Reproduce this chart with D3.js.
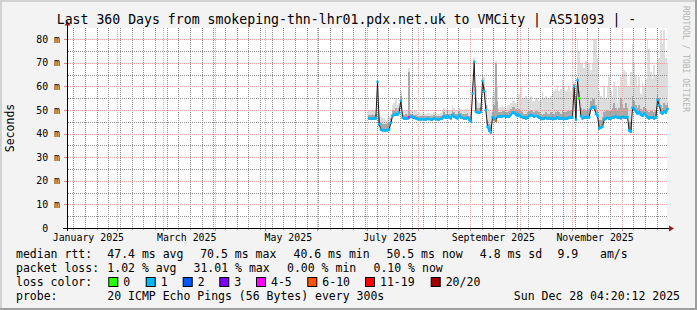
<!DOCTYPE html>
<html>
<head>
<meta charset="utf-8">
<script src="https://cdn.jsdelivr.net/npm/d3@7"></script>
<style>
  html, body { margin: 0; padding: 0; background: #f3f3f3; }
  svg { display: block; }
  text { font-family: "DejaVu Sans Mono", monospace; white-space: pre; }
</style>
</head>
<body>
<svg id="chart" width="697" height="310"></svg>
<script>
// ---------------- data ----------------
// one value per day, day 0 = 2025-07-01 (no data before the host was added)
const seriesStart = Date.UTC(2025, 6, 1);

const medianMs = [
  null, 46.5, 46.4, 46.3, 46.5, 46.6, 62.0, 44.0, 41.8, 41.5,          // 0-9
  41.5, 41.3, 41.5, 41.8, 44.5, 47.5, 48.0, 48.3, 48.0, 49.0,          // 10-19
  54.0, 46.8, 46.4, 46.5, 46.4, 47.0, 47.3, 47.0, 46.8, 46.5,          // 20-29
  46.2, 46.1, 46.1, 46.2, 46.1, 46.1, 46.3, 46.2, 46.1, 46.1,          // 30-39
  46.4, 46.2, 46.1, 46.1, 46.3, 46.6, 47.4, 46.8, 47.5, 47.0,          // 40-49
  46.6, 48.0, 47.2, 46.8, 46.5, 47.8, 47.0, 46.7, 46.6, 46.5,          // 50-59
  46.8, 46.0, 45.0, 57.0, 70.5, 49.3, 49.0, 48.8, 49.2, 62.3,          // 60-69
  58.0, 50.0, 43.0, 41.5, 40.6, 47.0, 46.5, 45.5, 47.2, 47.4,          // 70-79
  47.2, 47.4, 47.5, 47.3, 47.2, 47.4, 48.0, 49.0, 49.0, 48.2,          // 80-89
  47.5, 48.0, 47.2, 47.0, 46.8, 46.5, 46.8, 47.5, 47.9, 47.6,          // 90-99
  47.2, 47.6, 47.4, 46.8, 46.5, 46.2, 46.5, 46.8, 46.4, 46.6,          // 100-109
  46.4, 46.5, 46.2, 46.5, 47.0, 46.5, 46.4, 46.6, 46.2, 46.4,          // 110-119
  46.5, 46.8, 47.0, 46.8, 60.0, 46.0, 62.7, 55.0, 47.5, 46.5,          // 120-129
  47.0, 46.8, 47.2, 47.0, 50.5, 51.4, 51.0, 48.5, 47.5, 42.3,          // 130-139
  42.5, 43.0, 46.0, 46.5, 46.8, 46.4, 46.5, 46.8, 47.0, 47.3,          // 140-149
  46.8, 47.0, 46.6, 47.2, 47.0, 46.8, 47.0, 41.5, 40.8, 51.0,          // 150-159
  50.5, 49.5, 48.5, 49.2, 48.0, 47.5, 48.6, 47.8, 47.0, 46.6,          // 160-169
  46.8, 47.0, 46.5, 47.0, 54.3, 52.0, 49.0, 48.5, 49.5, 49.0,          // 170-179
  50.5                                                                  // 180
];

// top of the dense (darker) part of the smoke
const smokeMidMs = [
  null, 48, 48, 48.5, 48, 48.5, 60, 47, 44.5, 44,
  44, 44, 44.5, 45, 46.5, 50, 50, 51, 50, 51,
  56, 49, 48, 48.5, 48, 66, 48.5, 48.5, 48, 48,
  47.5, 47.6, 47.4, 47.5, 47.6, 47.5, 47.7, 47.5, 47.4, 47.5,
  47.8, 47.6, 47.5, 47.4, 47.6, 48, 49, 48.5, 49.5, 48.5,
  48.5, 50, 49, 48.5, 48.5, 49.5, 48.8, 48.5, 48.3, 48.5,
  48.8, 47.5, 47, 60, 70.5, 55, 51, 51, 51.5, 63,
  60, 52, 46, 44, 43.5, 49, 52, 70, 54, 49,
  49, 49.5, 49.5, 49, 49, 49.5, 50.5, 51.5, 51.5, 50.5,
  50, 50.5, 49.5, 49, 48.5, 48.5, 49, 49.5, 50, 49.5,
  49, 49.5, 49.5, 49, 48.5, 48, 48.5, 49, 48.5, 48.5,
  49, 48.5, 48.5, 49, 49.5, 49, 48.5, 50, 49, 49,
  49.5, 49.5, 50, 49.5, 61, 49, 64, 58, 51, 50,
  50.5, 50, 51, 50.5, 54, 55, 54.5, 52, 50, 46,
  46, 47, 49, 49.5, 50, 49.5, 50, 51, 53, 51,
  50, 51, 55, 52, 51, 53, 51, 45, 44.5, 56,
  54, 52, 51, 52, 50.5, 50, 51.5, 50.5, 49.5, 49,
  49.5, 50, 49, 50, 57, 55, 52, 51, 53, 52,
  53
];

// top of the light outer smoke (slowest pings)
const smokeHighMs = [
  null, 50, 50, 50.5, 50, 50.5, 63, 50, 47, 46.5,
  46.5, 46, 46.5, 47, 48.5, 52, 53, 55, 52, 53,
  58, 51, 50, 49.5, 50, 68, 50, 50, 49.5, 49.5,
  48.5, 48.8, 48.4, 48.6, 48.7, 48.5, 48.9, 48.6, 48.4, 48.5,
  49, 48.7, 48.5, 48.4, 48.8, 49.5, 51, 50, 51, 50,
  50, 52, 51, 50, 50, 51, 50.5, 50, 50, 50.5,
  51, 50, 49, 62, 72, 60, 54, 53, 53, 65,
  64, 58, 52, 50, 49, 56, 58, 71, 60, 51,
  51.5, 52, 51.5, 51, 52, 52, 53, 54, 54, 53,
  56, 57, 60, 55, 55, 56, 55, 55, 56, 54,
  54, 55, 55, 54, 55, 58, 55, 56, 55, 55,
  56, 57, 58, 59, 60, 58, 59, 62.7, 60, 58,
  59, 60, 58, 60, 62, 56, 80.4, 75, 70, 70,
  68, 71, 69, 70, 67, 70, 80, 80, 72, 58,
  56, 55, 60, 55, 60, 64, 58, 56, 62, 60,
  53, 60, 64, 62, 67, 66, 60, 60, 66, 78,
  70, 65, 60, 64, 57, 62, 60, 63, 80, 76,
  66, 63, 69, 65, 75, 72, 84, 78, 84, 72,
  70
];

// days whose median was drawn in a loss colour other than "1"
const lossDays = [25, 77, 127];
const lossDayBucket = ["4-5", "6-10", "0"];
const defaultBucket = "1";

const lossLabels = ["0", "1", "2", "3", "4-5", "6-10", "11-19", "20/20"];
const lossColors = ["#26ff00", "#00b8ff", "#0059ff", "#7e00ff", "#ff00ff", "#ff5500", "#ff0000", "#a10000"];

const yMajorTicks = [10, 20, 30, 40, 50, 60, 70, 80];
const yMinorTicks = [5, 15, 25, 35, 45, 55, 65, 75];
const yTickLabels = ["0  ", "10 m", "20 m", "30 m", "40 m", "50 m", "60 m", "70 m", "80 m"];
const monthLabelDates = ["2025-01-15", "2025-03-15", "2025-05-15", "2025-07-15", "2025-09-15", "2025-11-15"];
const monthLabels = ["January 2025", "March 2025", "May 2025", "July 2025", "September 2025", "November 2025"];

const titleText = "Last 360 Days from smokeping-thn-lhr01.pdx.net.uk to VMCity | AS51093 | -";
const rttLegend = ["median rtt:", "47.4 ms avg", "70.5 ms max", "40.6 ms min", "50.5 ms now", "4.8 ms sd", "9.9", "am/s"];
const lossLegend = ["packet loss:", "1.02 % avg", "31.01 % max", "0.00 % min", "0.10 % now"];
const probeText = "20 ICMP Echo Pings (56 Bytes) every 300s";
const stampText = "Sun Dec 28 04:20:12 2025";

// ---------------- layout ----------------
const W = 697, H = 310;
const plotLeft = 67, plotRight = 667, plotTop = 28, plotBottom = 228;
const endTime = new Date(Date.UTC(2025, 11, 28, 4, 20, 12));
const startTime = new Date(endTime.getTime() - 360 * 864e5);

const x = d3.scaleUtc().domain([startTime, endTime]).range([plotLeft, plotRight]);
const y = d3.scaleLinear().domain([0, 84.8]).range([plotBottom, plotTop]);
const dayStart = d => new Date(seriesStart + d * 864e5);
const dayMid = d => new Date(seriesStart + (d + 0.5) * 864e5);
const snap = v => Math.round(v);

const svg = d3.select("#chart");

// canvas + 3d frame
svg.append("rect").attr("width", W).attr("height", H).attr("fill", "#f3f3f3");
svg.append("path").attr("d", "M0,0H697V2H2V310H0Z").attr("fill", "#d2d2d2");
svg.append("path").attr("d", "M697,0V310H0V308H695V0Z").attr("fill", "#9e9e9e");

// plot area
svg.append("rect")
  .attr("x", plotLeft).attr("y", plotTop)
  .attr("width", plotRight - plotLeft).attr("height", plotBottom - plotTop)
  .attr("fill", "#ffffff");

// ---------------- smoke ----------------
const days = d3.range(medianMs.length).filter(d => medianMs[d] != null);

const smoke = svg.append("g").attr("shape-rendering", "crispEdges");
smoke.selectAll("rect.hi")
  .data(days)
  .enter().append("rect")
  .attr("class", "hi")
  .attr("x", d => x(dayStart(d)))
  .attr("width", d => x(dayStart(d + 1)) - x(dayStart(d)))
  .attr("y", d => y(smokeHighMs[d]))
  .attr("height", d => y(medianMs[d] - 0.6) - y(smokeHighMs[d]))
  .attr("fill", "#dddddd");

smoke.selectAll("rect.mid")
  .data(days)
  .enter().append("rect")
  .attr("class", "mid")
  .attr("x", d => x(dayStart(d)))
  .attr("width", d => x(dayStart(d + 1)) - x(dayStart(d)))
  .attr("y", d => y(smokeMidMs[d]))
  .attr("height", d => y(medianMs[d] - 0.6) - y(smokeMidMs[d]))
  .attr("fill", "#a9a9a9");

// ---------------- grid: 1px dots, every other pixel ----------------
const minorColor = "#8e8e8e";
const majorColor = "#f0a0a0";

function dotRows(g, positions, color, vertical) {
  g.selectAll("path")
    .data(positions)
    .enter().append("path")
    .attr("fill", color)
    .attr("d", p => {
      let s = "";
      if (vertical) {
        for (let yy = plotTop; yy < plotBottom; yy += 2) s += `M${p},${yy}h1v1h-1Z`;
      } else {
        for (let xx = plotLeft + 1; xx < plotRight; xx += 2) s += `M${xx},${p}h1v1h-1Z`;
      }
      return s;
    });
}
dotRows(svg.append("g").attr("shape-rendering", "crispEdges"),
  d3.utcMonday.range(startTime, endTime).map(d => snap(x(d))), minorColor, true);
dotRows(svg.append("g").attr("shape-rendering", "crispEdges"),
  yMinorTicks.map(v => snap(y(v))), minorColor, false);
dotRows(svg.append("g").attr("shape-rendering", "crispEdges"),
  d3.utcMonth.range(startTime, endTime).map(d => snap(x(d))), majorColor, true);
dotRows(svg.append("g").attr("shape-rendering", "crispEdges"),
  yMajorTicks.map(v => snap(y(v))), majorColor, false);

// ---------------- median ----------------
const medianLine = d3.line()
  .defined(d => medianMs[d] != null)
  .x(d => x(dayMid(d)))
  .y(d => y(medianMs[d]));

svg.append("path")
  .datum(d3.range(medianMs.length))
  .attr("d", medianLine)
  .attr("fill", "none")
  .attr("stroke", "#1a1a1a")
  .attr("stroke-width", 1);

function bucketColor(d) {
  const i = lossDays.indexOf(d);
  const label = i >= 0 ? lossDayBucket[i] : defaultBucket;
  return lossColors[lossLabels.indexOf(label)];
}

// coloured median: flat stretches get the loss colour, jumps stay dark
const lossG = svg.append("g");
days.forEach(d => {
  const next = d + 1;
  if (medianMs[next] != null && Math.abs(medianMs[next] - medianMs[d]) < 1.6) {
    lossG.append("line")
      .attr("x1", x(dayMid(d))).attr("x2", x(dayMid(next)))
      .attr("y1", y(medianMs[d])).attr("y2", y(medianMs[next]))
      .attr("stroke", bucketColor(d)).attr("stroke-width", 2.2);
  }
  lossG.append("rect")
    .attr("x", x(dayMid(d)) - 1.2).attr("y", y(medianMs[d]) - 1.2)
    .attr("width", 2.4).attr("height", 2.4)
    .attr("fill", bucketColor(d));
});

// small ticks outside the plot
const ticks = svg.append("g").attr("shape-rendering", "crispEdges");
ticks.selectAll("rect.ty")
  .data(yMajorTicks)
  .enter().append("rect")
  .attr("x", plotLeft - 3).attr("width", 3)
  .attr("y", d => snap(y(d))).attr("height", 1)
  .attr("fill", "#e08080");
ticks.selectAll("rect.tx")
  .data(d3.utcMonth.range(startTime, endTime))
  .enter().append("rect")
  .attr("x", d => snap(x(d))).attr("width", 1)
  .attr("y", plotBottom + 1).attr("height", 2)
  .attr("fill", "#e08080");
ticks.selectAll("rect.txm")
  .data(d3.utcMonday.range(startTime, endTime))
  .enter().append("rect")
  .attr("x", d => snap(x(d))).attr("width", 1)
  .attr("y", plotBottom + 1).attr("height", 1)
  .attr("fill", "#b0b0b0");

// ---------------- axes ----------------
const axes = svg.append("g").attr("shape-rendering", "crispEdges");
axes.append("rect")
  .attr("x", plotLeft).attr("width", 1)
  .attr("y", plotTop - 3).attr("height", plotBottom - plotTop + 6)
  .attr("fill", "#000");
axes.append("rect")
  .attr("x", plotLeft - 4).attr("width", plotRight - plotLeft + 7)
  .attr("y", plotBottom).attr("height", 1)
  .attr("fill", "#000");
svg.append("path")
  .attr("d", `M${plotLeft - 2.5},${plotTop - 2.5}L${plotLeft + 3.5},${plotTop - 2.5}L${plotLeft + 0.5},${plotTop - 7}Z`)
  .attr("fill", "#9b1c1c");
svg.append("path")
  .attr("d", `M${plotRight + 2},${plotBottom - 2.5}L${plotRight + 2},${plotBottom + 3.5}L${plotRight + 7},${plotBottom + 0.5}Z`)
  .attr("fill", "#9b1c1c");

// y labels
svg.append("g").selectAll("text")
  .data([0].concat(yMajorTicks))
  .enter().append("text")
  .attr("x", 60)
  .attr("y", d => y(d) + 3.5)
  .attr("text-anchor", "end")
  .attr("font-size", "9.9px")
  .attr("fill", "#000")
  .text((d, i) => yTickLabels[i]);

// month labels
svg.append("g").selectAll("text")
  .data(monthLabelDates)
  .enter().append("text")
  .attr("x", d => x(new Date(d + "T00:00:00Z")))
  .attr("y", 241)
  .attr("text-anchor", "middle")
  .attr("font-size", "9.9px")
  .attr("fill", "#000")
  .text((d, i) => monthLabels[i]);

// axis title
svg.append("text")
  .attr("transform", "translate(14,128) rotate(-90)")
  .attr("text-anchor", "middle")
  .attr("font-size", "11.5px")
  .text("Seconds");

// chart title
svg.append("text")
  .attr("x", 346.5).attr("y", 24)
  .attr("text-anchor", "middle")
  .attr("font-size", "13.2px")
  .text(titleText);

// watermark
svg.append("text")
  .attr("transform", "translate(683,6) rotate(90)")
  .attr("font-size", "8px")
  .attr("font-family", "DejaVu Sans, sans-serif")
  .attr("fill", "#b4b4b4")
  .text("RRDTOOL / TOBI OETIKER");

// ---------------- legend ----------------
const legFont = "11.5px";
const row1X = [16, 107.3, 200.2, 293.5, 386.5, 479.8, 557.5, 600];
rttLegend.forEach((t, i) => {
  svg.append("text").attr("x", row1X[i]).attr("y", 257.7).attr("font-size", legFont).text(t);
});
const row2X = [16, 107.3, 193.5, 287, 373.5];
lossLegend.forEach((t, i) => {
  svg.append("text").attr("x", row2X[i]).attr("y", 271.9).attr("font-size", legFont).text(t);
});

svg.append("text").attr("x", 16).attr("y", 286).attr("font-size", legFont).text("loss color:");
const boxX = [108.3, 145.7, 182.7, 219.3, 256, 307.3, 365, 430.7];
lossLabels.forEach((t, i) => {
  svg.append("rect")
    .attr("x", boxX[i] + 0.5).attr("y", 277.5)
    .attr("width", 9).attr("height", 9)
    .attr("fill", lossColors[i]).attr("stroke", "#000").attr("stroke-width", 1);
  svg.append("text").attr("x", boxX[i] + 15).attr("y", 286).attr("font-size", legFont).text(t);
});

svg.append("text").attr("x", 16).attr("y", 300.2).attr("font-size", legFont).text("probe:");
svg.append("text").attr("x", 107.3).attr("y", 300.2).attr("font-size", legFont).text(probeText);
svg.append("text").attr("x", 680).attr("y", 300.2).attr("text-anchor", "end").attr("font-size", legFont).text(stampText);
</script>
</body>
</html>
